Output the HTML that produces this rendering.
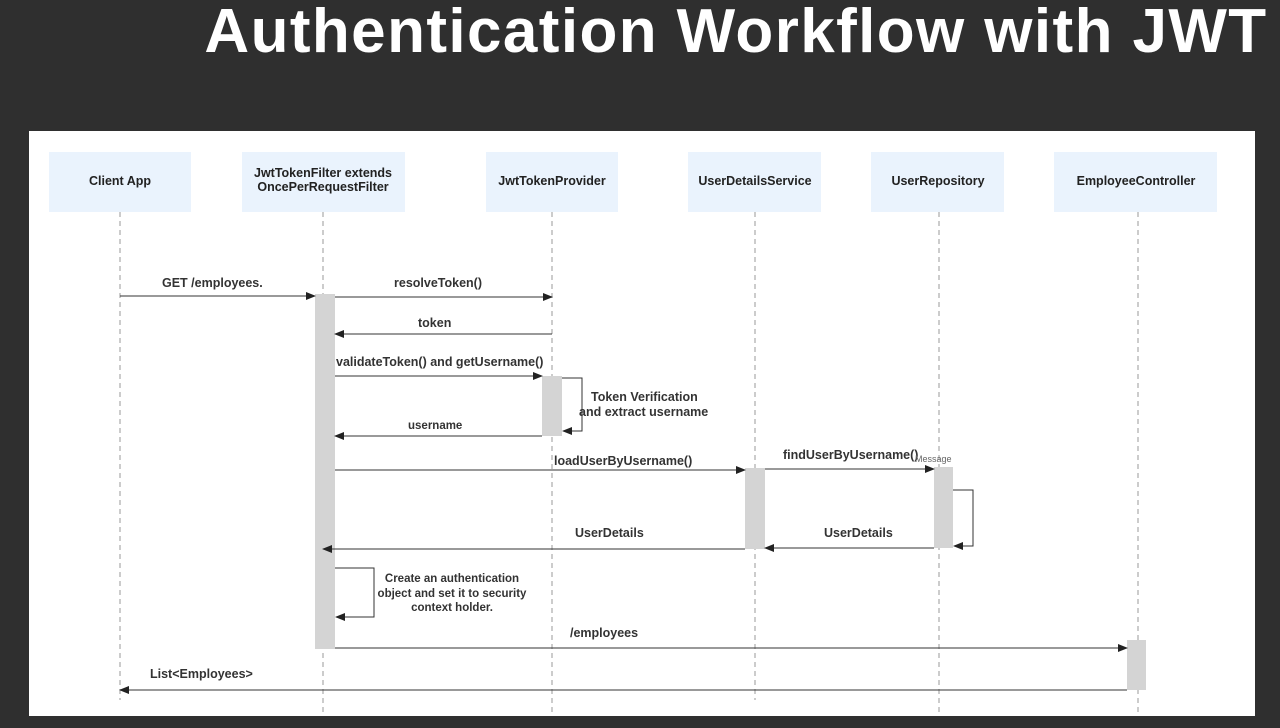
<!DOCTYPE html>
<html><head><meta charset="utf-8"><style>
html,body{margin:0;padding:0;background:#2f2f2f;width:1280px;height:728px;overflow:hidden}
svg{display:block}
text{font-family:"Liberation Sans",sans-serif}
</style></head><body>
<svg width="1280" height="728" viewBox="0 0 1280 728">
<defs>
<marker id="a" markerWidth="10" markerHeight="8" refX="9" refY="4" orient="auto" markerUnits="userSpaceOnUse"><path d="M0,0 L10,4 L0,8 z" fill="#222"/></marker>
</defs>
<rect width="1280" height="728" fill="#2f2f2f"/>
<text x="736" y="52" text-anchor="middle" fill="#fff" font-size="62" font-weight="bold" letter-spacing="1.4">Authentication Workflow with JWT</text>
<rect x="29" y="131" width="1226" height="585" fill="#fff"/>
<g fill="#eaf3fd">
<rect x="49" y="152" width="142" height="60"/>
<rect x="242" y="152" width="163" height="60"/>
<rect x="486" y="152" width="132" height="60"/>
<rect x="688" y="152" width="133" height="60"/>
<rect x="871" y="152" width="133" height="60"/>
<rect x="1054" y="152" width="163" height="60"/>
</g>
<g font-size="12.5" font-weight="bold" fill="#222" text-anchor="middle">
<text x="120" y="185">Client App</text>
<text x="323" y="177">JwtTokenFilter extends</text>
<text x="323" y="191">OncePerRequestFilter</text>
<text x="552" y="185">JwtTokenProvider</text>
<text x="755" y="185">UserDetailsService</text>
<text x="938" y="185">UserRepository</text>
<text x="1136" y="185">EmployeeController</text>
</g>
<g stroke="#999" stroke-dasharray="5,4" stroke-width="1">
<line x1="120" y1="212" x2="120" y2="700"/>
<line x1="323" y1="212" x2="323" y2="712"/>
<line x1="552" y1="212" x2="552" y2="712"/>
<line x1="755" y1="212" x2="755" y2="700"/>
<line x1="939" y1="212" x2="939" y2="712"/>
<line x1="1138" y1="212" x2="1138" y2="712"/>
</g>
<g fill="#d4d4d4">
<rect x="315" y="294" width="20" height="355"/>
<rect x="542" y="376" width="20" height="60"/>
<rect x="745" y="468" width="20" height="81"/>
<rect x="934" y="467" width="19" height="81"/>
<rect x="1127" y="640" width="19" height="50"/>
</g>
<g stroke="#333" stroke-width="1" fill="none" marker-end="url(#a)">
<line x1="120" y1="296" x2="315" y2="296"/>
<line x1="335" y1="297" x2="552" y2="297"/>
<line x1="552" y1="334" x2="335" y2="334"/>
<line x1="335" y1="376" x2="542" y2="376"/>
<path d="M562,378 H582 V431 H563"/>
<line x1="542" y1="436" x2="335" y2="436"/>
<line x1="335" y1="470" x2="745" y2="470"/>
<line x1="765" y1="469" x2="934" y2="469"/>
<path d="M953,490 H973 V546 H954"/>
<line x1="934" y1="548" x2="765" y2="548"/>
<line x1="745" y1="549" x2="323" y2="549"/>
<path d="M335,568 H374 V617 H336"/>
<line x1="335" y1="648" x2="1127" y2="648"/>
<line x1="1127" y1="690" x2="120" y2="690"/>
</g>
<g font-size="12.5" font-weight="bold" fill="#333">
<text x="162" y="287">GET /employees.</text>
<text x="394" y="287">resolveToken()</text>
<text x="418" y="327">token</text>
<text x="336" y="366">validateToken() and getUsername()</text>
<text x="591" y="401">Token Verification</text>
<text x="579" y="416">and extract username</text>
<text x="408" y="429" font-size="11.5">username</text>
<text x="554" y="465">loadUserByUsername()</text>
<text x="783" y="459">findUserByUsername()</text>
<text x="915" y="462" font-size="9" font-weight="normal" fill="#666">Message</text>
<text x="575" y="537">UserDetails</text>
<text x="824" y="537">UserDetails</text>
<text x="452" y="582" text-anchor="middle" font-size="11.5">Create an authentication</text>
<text x="452" y="597" text-anchor="middle" font-size="11.5">object and set it to security</text>
<text x="452" y="611" text-anchor="middle" font-size="11.5">context holder.</text>
<text x="570" y="637">/employees</text>
<text x="150" y="678">List&lt;Employees&gt;</text>
</g>
</svg>
</body></html>
